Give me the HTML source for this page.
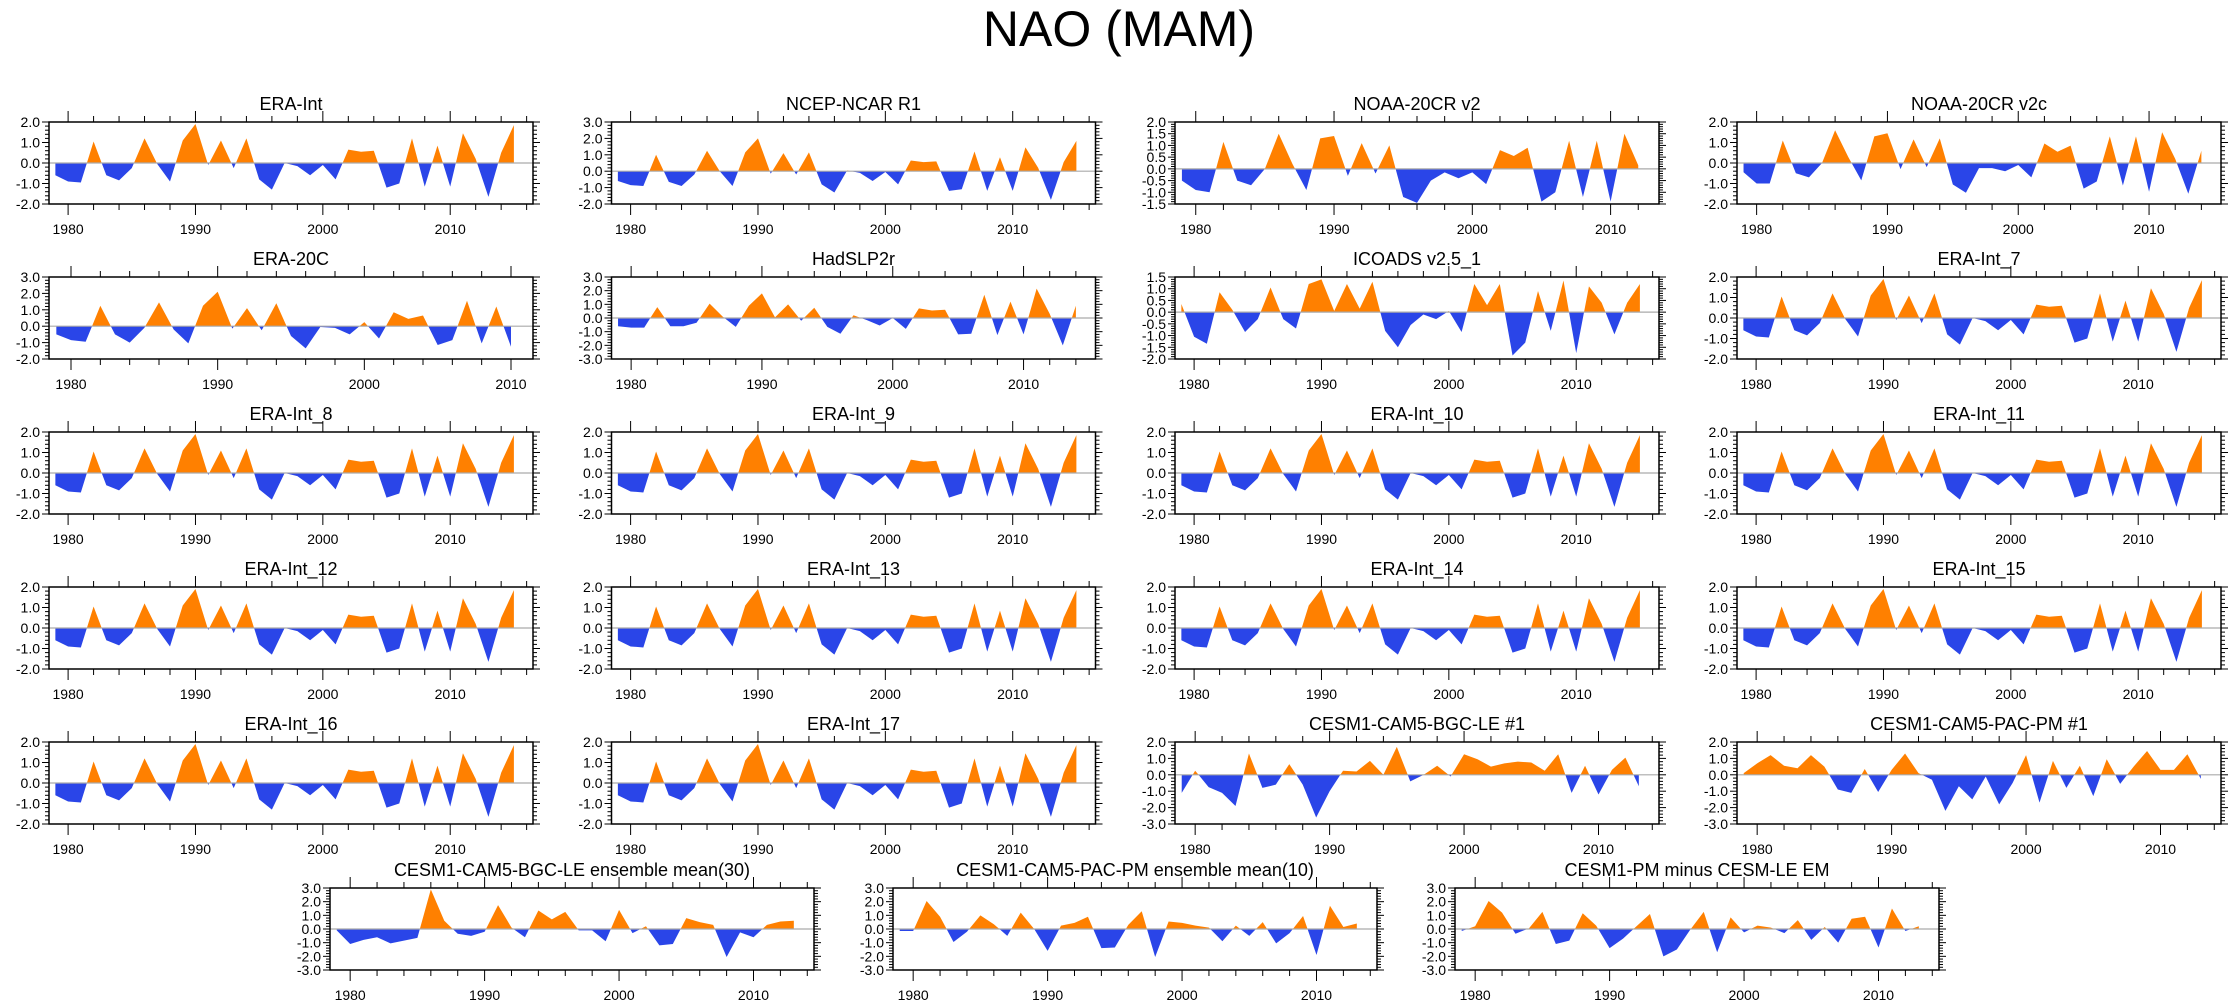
<!DOCTYPE html>
<html><head><meta charset="utf-8"><style>
html,body{margin:0;padding:0;background:#fff;}
svg{display:block;font-family:"Liberation Sans",sans-serif;}
</style></head><body>
<svg id="chart" width="2238" height="1005" viewBox="0 0 2238 1005" xmlns="http://www.w3.org/2000/svg">
<text x="1119" y="46" text-anchor="middle" font-size="50">NAO (MAM)</text>
</svg>
<script>
const startYear = 1979;
const eraInt = [-0.6,-0.9,-0.95,1.05,-0.6,-0.85,-0.25,1.2,-0.05,-0.9,1.1,1.9,-0.1,1.1,-0.25,1.2,-0.8,-1.3,0.0,-0.15,-0.6,-0.1,-0.8,0.65,0.55,0.6,-1.2,-1.0,1.2,-1.15,0.85,-1.15,1.45,0.2,-1.65,0.5,1.85];
const ncep = [-0.6,-0.85,-0.9,1.0,-0.65,-0.9,-0.2,1.25,0.0,-0.9,1.15,2.0,-0.15,1.1,-0.2,1.15,-0.8,-1.3,0.05,-0.1,-0.6,-0.05,-0.8,0.65,0.55,0.6,-1.2,-1.1,1.2,-1.2,0.85,-1.2,1.45,0.2,-1.75,0.55,1.85];
const noaaV2 = [-0.5,-0.9,-1.0,1.15,-0.5,-0.7,0.0,1.5,0.2,-0.9,1.3,1.4,-0.3,1.1,-0.2,1.0,-1.2,-1.45,-0.5,-0.15,-0.4,-0.15,-0.65,0.8,0.55,0.9,-1.4,-1.0,1.2,-1.2,1.2,-1.4,1.5,0.15];
const noaaV2c = [-0.45,-1.0,-1.0,1.1,-0.5,-0.7,0.0,1.6,0.3,-0.85,1.3,1.45,-0.3,1.15,-0.2,1.2,-1.05,-1.45,-0.25,-0.25,-0.4,-0.1,-0.7,0.95,0.55,0.85,-1.25,-0.9,1.3,-1.1,1.3,-1.4,1.5,0.2,-1.5,0.6];
const era20c = [-0.5,-0.85,-0.95,1.25,-0.5,-1.0,-0.1,1.45,-0.2,-1.05,1.25,2.1,-0.15,1.1,-0.25,1.4,-0.6,-1.35,-0.05,-0.1,-0.5,0.25,-0.75,0.85,0.45,0.65,-1.15,-0.85,1.55,-1.05,1.2,-1.25];
const hadslp = [-0.6,-0.7,-0.7,0.8,-0.6,-0.6,-0.35,1.05,0.1,-0.65,0.9,1.8,0.05,1.0,-0.2,0.75,-0.65,-1.15,0.2,-0.15,-0.55,0.0,-0.8,0.7,0.55,0.6,-1.2,-1.15,1.7,-1.25,1.2,-1.2,2.15,0.3,-2.0,0.9];
const icoads = [0.35,-1.05,-1.35,0.85,0.1,-0.85,-0.3,1.05,-0.3,-0.7,1.2,1.4,0.05,1.2,0.15,1.3,-0.8,-1.5,-0.55,-0.1,-0.3,0.05,-0.85,1.2,0.3,1.2,-1.85,-1.3,0.9,-0.8,1.35,-1.75,1.1,0.4,-0.95,0.4,1.2];
const cesmLe1 = [-1.1,0.25,-0.75,-1.1,-1.9,1.3,-0.8,-0.6,0.65,-0.6,-2.6,-1.0,0.25,0.2,0.85,0.0,1.7,-0.4,0.0,0.55,-0.1,1.25,0.95,0.5,0.7,0.8,0.75,0.25,1.25,-1.1,0.55,-1.2,0.3,1.05,-0.7];
const cesmPm1 = [0.1,0.7,1.2,0.55,0.4,1.2,0.5,-0.9,-1.1,0.35,-1.05,0.3,1.3,0.1,-0.3,-2.2,-0.7,-1.5,-0.1,-1.8,-0.5,1.2,-1.7,0.85,-0.8,0.55,-1.3,0.95,-0.55,0.5,1.45,0.3,0.3,1.25,-0.25];
const leMean = [-0.1,-1.1,-0.8,-0.6,-1.05,-0.85,-0.65,2.9,0.6,-0.35,-0.5,-0.2,1.75,0.1,-0.6,1.35,0.7,1.25,-0.1,-0.1,-0.9,1.4,-0.3,0.2,-1.2,-1.1,0.8,0.5,0.3,-2.05,-0.25,-0.6,0.3,0.55,0.6];
const pmMean = [-0.15,-0.15,2.05,0.9,-0.95,-0.2,1.0,0.35,-0.5,1.2,0.0,-1.6,0.25,0.45,0.9,-1.4,-1.35,0.3,1.3,-2.05,0.55,0.45,0.25,0.1,-0.9,0.25,-0.5,0.5,-1.05,-0.3,0.95,-1.9,1.7,0.15,0.4];
const pmMinusLe = [-0.15,0.2,2.05,1.2,-0.35,0.05,1.25,-1.1,-0.85,1.15,0.25,-1.4,-0.7,0.2,1.1,-2.0,-1.5,-0.05,1.25,-1.7,0.85,-0.25,0.25,0.1,-0.3,0.65,-0.8,0.15,-1.0,0.75,0.9,-1.35,1.5,-0.15,0.2];

const panelTitles = ["ERA-Int","NCEP-NCAR R1","NOAA-20CR v2","NOAA-20CR v2c","ERA-20C","HadSLP2r","ICOADS v2.5_1","ERA-Int_7","ERA-Int_8","ERA-Int_9","ERA-Int_10","ERA-Int_11","ERA-Int_12","ERA-Int_13","ERA-Int_14","ERA-Int_15","ERA-Int_16","ERA-Int_17","CESM1-CAM5-BGC-LE #1","CESM1-CAM5-PAC-PM #1","CESM1-CAM5-BGC-LE ensemble mean(30)","CESM1-CAM5-PAC-PM ensemble mean(10)","CESM1-PM minus CESM-LE EM"];
const panelSeries = [eraInt,ncep,noaaV2,noaaV2c,era20c,hadslp,icoads,eraInt,eraInt,eraInt,eraInt,eraInt,eraInt,eraInt,eraInt,eraInt,eraInt,eraInt,cesmLe1,cesmPm1,leMean,pmMean,pmMinusLe];
const yMins = [-2,-2,-1.5,-2,-2,-3,-2,-2,-2,-2,-2,-2,-2,-2,-2,-2,-2,-2,-3,-3,-3,-3,-3];
const yMaxs = [2,3,2,2,3,3,1.5,2,2,2,2,2,2,2,2,2,2,2,2,2,3,3,3];
const ySteps = [1,1,0.5,1,1,1,0.5,1,1,1,1,1,1,1,1,1,1,1,1,1,1,1,1];

const NS = "http://www.w3.org/2000/svg";
const svg = document.getElementById('chart');
const colX = [49, 611.5, 1175, 1737];
const rowY = [122, 277, 432, 587, 742];
const bottomX = [330, 893, 1455];
const PW = 484, PH = 82;

function mk(tag, attrs, parent){
  const e = document.createElementNS(NS, tag);
  for (const k in attrs) e.setAttribute(k, attrs[k]);
  parent.appendChild(e);
  return e;
}

function drawPanel(i, px, py){
  const vals = panelSeries[i];
  const ymin = yMins[i], ymax = yMaxs[i], step = ySteps[i];
  const lastYear = startYear + vals.length - 1;
  const xmin = 1978.5, xmax = lastYear + 1.5;
  const xs = y => px + (y - xmin) / (xmax - xmin) * PW;
  const ys = v => py + (ymax - v) / (ymax - ymin) * PH;
  const g = mk('g', {}, svg);
  
  

  const t = mk('text', {x: px + PW/2, y: py - 12, 'text-anchor':'middle', 'font-size': 18}, g);
  t.textContent = panelTitles[i];
  
  

  // build points with zero crossings
  const pts = [];
  for (let k = 0; k < vals.length; k++){
    const yr = startYear + k, v = vals[k];
    if (k > 0){
      const pv = vals[k-1];
      if ((pv > 0 && v < 0) || (pv < 0 && v > 0)){
        const f = pv / (pv - v);
        pts.push([yr - 1 + f, 0]);
      }
    }
    pts.push([yr, v]);
  }
  const first = pts[0][0], last = pts[pts.length-1][0];
  let pos = `M${xs(first)},${ys(0)} `, neg = pos;
  pts.forEach(p => {
    pos += `L${xs(p[0]).toFixed(2)},${ys(Math.max(p[1],0)).toFixed(2)} `;
    neg += `L${xs(p[0]).toFixed(2)},${ys(Math.min(p[1],0)).toFixed(2)} `;
  });
  pos += `L${xs(last)},${ys(0)} Z`; neg += `L${xs(last)},${ys(0)} Z`;
  const pp = mk('path', {d: pos, fill: '#ff8000'}, g);
  
  
  const np = mk('path', {d: neg, fill: '#2a45e8'}, g);
  
  

  const zl = mk('line', {x1: px, x2: px + PW, y1: ys(0), y2: ys(0), stroke: '#aaa', 'stroke-width': 1.2}, g);
  
  

  const fr = mk('rect', {x: px, y: py, width: PW, height: PH, fill: 'none', stroke: '#000', 'stroke-width': 1.5}, g);
  
  

  // y ticks
  const minor = step / 5;
  const nMin = Math.round((ymax - ymin) / minor);
  for (let k = 0; k <= nMin; k++){
    const v = ymin + k * minor;
    const isMaj = k % 5 === 0;
    const L = isMaj ? 7 : 4;
    const y = ys(v);
    mk('line', {x1: px - L, x2: px, y1: y, y2: y, stroke: '#000', 'stroke-width': 1}, g);
    mk('line', {x1: px + PW, x2: px + PW + L, y1: y, y2: y, stroke: '#000', 'stroke-width': 1}, g);
    if (isMaj){
      const lb = mk('text', {x: px - 9, y: y + 5, 'text-anchor':'end', 'font-size': 14}, g);
      lb.textContent = v.toFixed(1);
      
      
    }
  }
  // x ticks
  for (let yr = 1978; yr <= xmax; yr += 2){
    if (yr < xmin) continue;
    const isMaj = yr % 10 === 0;
    const L = isMaj ? 11 : 6;
    const x = xs(yr);
    mk('line', {x1: x, x2: x, y1: py - L, y2: py, stroke: '#000', 'stroke-width': 1}, g);
    mk('line', {x1: x, x2: x, y1: py + PH, y2: py + PH + L, stroke: '#000', 'stroke-width': 1}, g);
    if (isMaj){
      const lb = mk('text', {x: x, y: py + PH + 30, 'text-anchor':'middle', 'font-size': 14}, g);
      lb.textContent = yr;
      
      
    }
  }
}

for (let i = 0; i < 20; i++){
  drawPanel(i, colX[i % 4], rowY[Math.floor(i / 4)]);
}
for (let j = 0; j < 3; j++){
  drawPanel(20 + j, bottomX[j], 888);
}
</script>
</body></html>
